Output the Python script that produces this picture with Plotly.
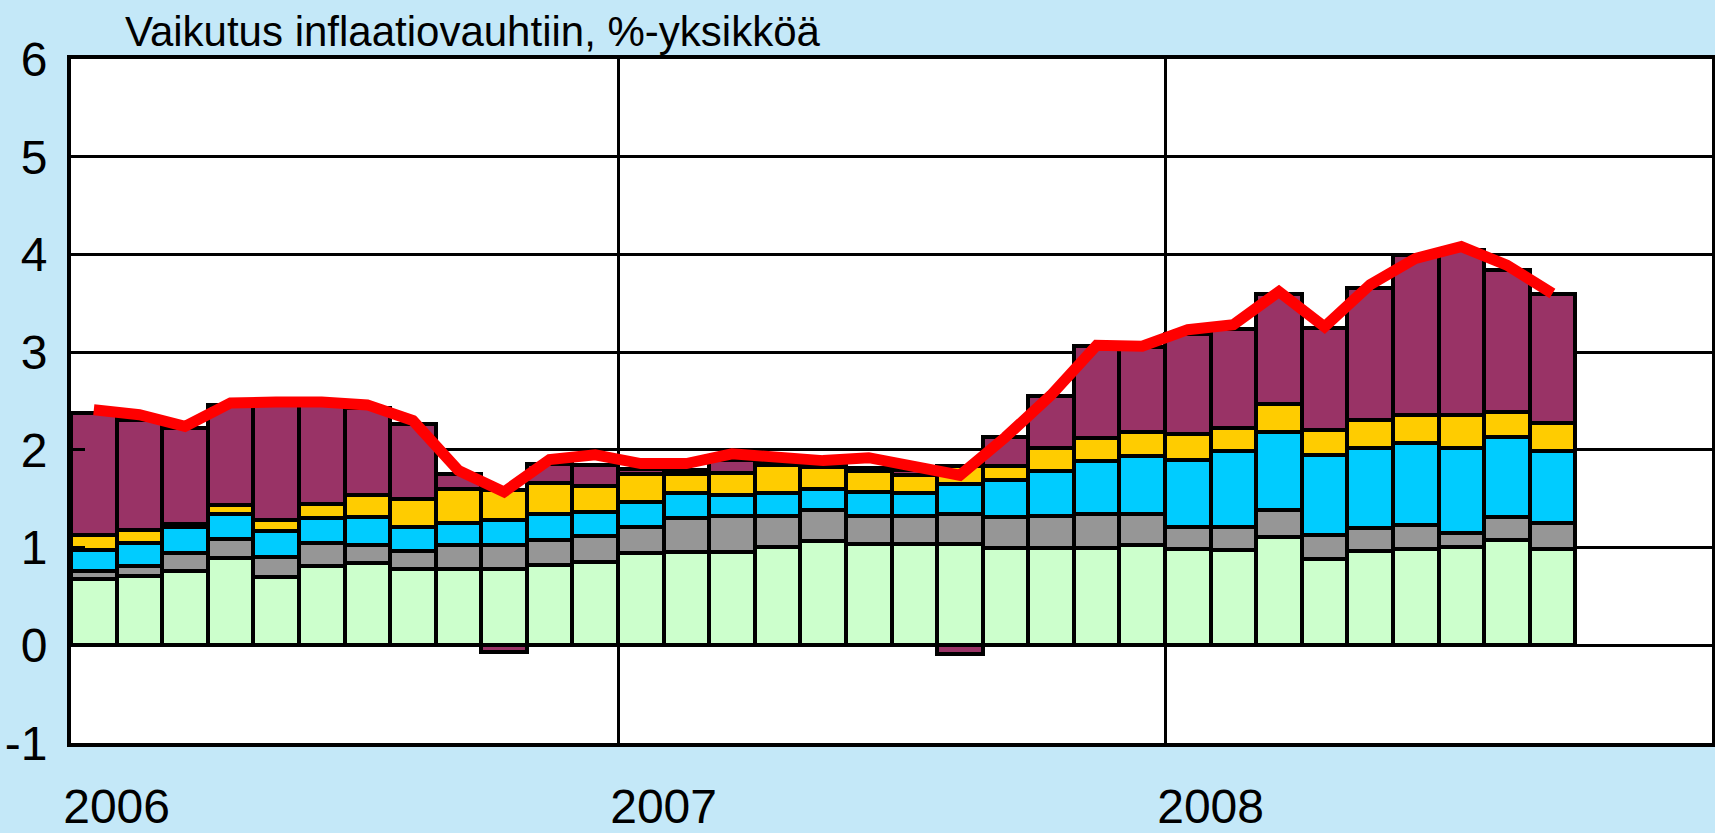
import plotly.graph_objects as go

months = [f"{y}-{m:02d}" for y in (2006, 2007, 2008) for m in range(1, 13)][:33]
year_labels = ["2006", "2007", "2008"]
year_label_pos = [0.5, 12.5, 24.5]
year_boundaries = [11.5, 23.5]
y_tick_vals = [-1, 0, 1, 2, 3, 4, 5, 6]
y_tick_text = ["-1", "0", "1", "2", "3", "4", "5", "6"]

s_green = [0.68, 0.71, 0.76, 0.89, 0.70, 0.81, 0.84, 0.78, 0.78, 0.78, 0.82, 0.85,
           0.94, 0.95, 0.95, 1.01, 1.07, 1.04, 1.04, 1.04, 1.00, 1.00, 1.00, 1.03,
           0.99, 0.98, 1.11, 0.88, 0.97, 0.99, 1.01, 1.08, 0.99]
s_gray = [0.08, 0.10, 0.18, 0.20, 0.20, 0.24, 0.19, 0.18, 0.25, 0.25, 0.26, 0.27,
          0.27, 0.35, 0.37, 0.31, 0.31, 0.28, 0.28, 0.30, 0.31, 0.32, 0.34, 0.31,
          0.22, 0.23, 0.27, 0.25, 0.23, 0.24, 0.14, 0.23, 0.26]
s_cyan = [0.22, 0.24, 0.27, 0.25, 0.27, 0.25, 0.28, 0.25, 0.22, 0.25, 0.26, 0.24,
          0.26, 0.26, 0.22, 0.24, 0.22, 0.25, 0.24, 0.31, 0.38, 0.46, 0.55, 0.60,
          0.69, 0.78, 0.80, 0.82, 0.82, 0.84, 0.87, 0.82, 0.74]
s_yellow = [0.15, 0.13, 0.03, 0.10, 0.11, 0.15, 0.23, 0.29, 0.35, 0.31, 0.32, 0.27,
            0.28, 0.19, 0.22, 0.29, 0.22, 0.21, 0.18, 0.18, 0.14, 0.24, 0.23, 0.24,
            0.26, 0.23, 0.29, 0.25, 0.29, 0.29, 0.34, 0.26, 0.28]
s_purple = [1.25, 1.13, 0.98, 1.02, 1.18, 1.01, 0.89, 0.76, 0.15, -0.07, 0.20, 0.21,
            0.05, 0.04, 0.14, 0.02, 0.02, 0.03, 0.05, -0.09, 0.30, 0.53, 0.94, 0.87,
            1.03, 1.02, 1.13, 1.05, 1.35, 1.63, 1.69, 1.45, 1.33]
inflation = [2.41, 2.36, 2.24, 2.48, 2.49, 2.49, 2.46, 2.30, 1.79, 1.57, 1.90, 1.95,
             1.86, 1.86, 1.96, 1.92, 1.89, 1.92, 1.83, 1.74, 2.13, 2.56, 3.07, 3.06,
             3.23, 3.28, 3.62, 3.26, 3.69, 3.96, 4.08, 3.89, 3.60]

title_text = "Vaikutus inflaatiovauhtiin, %-yksikköä"

x = list(range(len(months)))
FONT = "Liberation Sans, Arial, sans-serif"

fig = go.Figure()
for vals, col in [(s_green, "#CCFFCC"), (s_gray, "#969696"), (s_cyan, "#00CCFF"),
                  (s_yellow, "#FFCC00"), (s_purple, "#993366")]:
    fig.add_trace(go.Bar(x=x, y=vals, marker=dict(color=col, line=dict(color="black", width=4)),
                         width=1, customdata=months, showlegend=False))
fig.add_trace(go.Scatter(x=x, y=inflation, mode="lines",
                         line=dict(color="#FF0000", width=11), showlegend=False))

fig.update_layout(
    width=1715, height=833,
    barmode="relative", bargap=0,
    paper_bgcolor="#C4E8F8", plot_bgcolor="white",
    margin=dict(l=71, r=3, t=59, b=90, autoexpand=False),
    font=dict(family=FONT, color="black"),
    xaxis=dict(range=[-0.5, 35.5], tickvals=year_label_pos, ticktext=year_labels,
               showgrid=False, zeroline=False, ticks="outside", ticklen=18,
               tickcolor="rgba(0,0,0,0)", tickfont=dict(size=48, color="black"),
               showline=True, mirror=True, linecolor="black", linewidth=4, automargin=False,
               minor=dict(tickvals=year_boundaries, showgrid=True, gridcolor="black",
                          gridwidth=3, ticks="")),
    yaxis=dict(range=[-1, 6], tickvals=y_tick_vals, ticktext=y_tick_text,
               showgrid=True, gridcolor="black", gridwidth=3,
               zeroline=True, zerolinecolor="black", zerolinewidth=3,
               ticks="inside", ticklen=14, tickwidth=3, tickcolor="black",
               tickfont=dict(size=48, color="black"), ticklabelstandoff=10,
               showline=True, mirror=True, linecolor="black", linewidth=4, automargin=False),
    annotations=[dict(text=title_text, xref="paper", yref="paper", x=0.0317, y=1.04,
                      xanchor="left", yanchor="middle", showarrow=False,
                      font=dict(size=42, color="black", family=FONT))],
)

fig.write_html("out.html", config={"displayModeBar": False},
               post_script="document.body.style.margin='0';document.body.style.overflow='hidden';")
